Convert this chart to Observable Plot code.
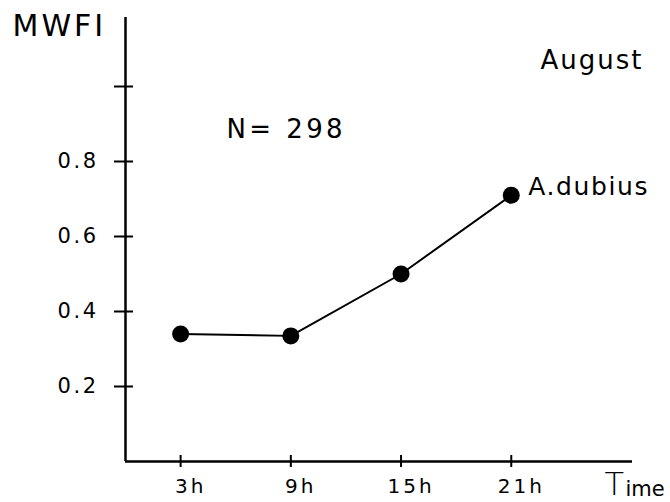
<!DOCTYPE html>
<html>
<head>
<meta charset="utf-8">
<script src="https://cdn.jsdelivr.net/npm/d3@7"></script>
<script src="https://cdn.jsdelivr.net/npm/@observablehq/plot@0.6"></script>
<style>
  html, body { margin: 0; padding: 0; background: #fff; }
  svg { display: block; }
</style>
</head>
<body>
<div id="chart"></div>
<script>
// Mean weighted feeding index of A. dubius over the day (August sample)
const hours = [3, 9, 15, 21];
const mwfi = [0.34, 0.335, 0.50, 0.71];
const hourTicks = [3, 9, 15, 21];
const yTicks = [0.2, 0.4, 0.6, 0.8, 1.0];
const yLabelTicks = [0.2, 0.4, 0.6, 0.8];
const speciesName = "A.dubius";
const sampleNote = "N= 298";
const monthName = "August";
const yTitle = "MWFI";

const rows = hours.map((h, i) => ({hour: h, value: mwfi[i]}));
const font = "'DejaVu Sans', 'Liberation Sans', Arial, sans-serif";

const chart = Plot.plot({
  width: 670,
  height: 502,
  marginLeft: 125,
  marginRight: 38,
  marginTop: 17,
  marginBottom: 41,
  style: {fontFamily: font, fontSize: "20px", color: "#000", background: "#fff"},
  x: {domain: [0, 27.6]},
  y: {domain: [0, 1.184]},
  marks: [
    // axis lines
    Plot.ruleX([0], {stroke: "#000", strokeWidth: 2.5}),
    Plot.ruleY([0], {stroke: "#000", strokeWidth: 2.5}),
    // y ticks crossing the axis
    Plot.axisY({ticks: yTicks, tickSize: 19, dx: 8, strokeWidth: 2, text: null, label: null}),
    Plot.axisY({
      ticks: yLabelTicks,
      tickSize: 0,
      tickPadding: 27,
      tickFormat: d3.format(".1f"),
      label: null
    }),
    // x ticks crossing the axis
    Plot.axisX({ticks: hourTicks, tickSize: 12, dy: -6, strokeWidth: 2, text: null, label: null}),
    Plot.axisX({
      ticks: hourTicks,
      tickSize: 0,
      tickPadding: 17,
      dx: 10,
      tickFormat: d => d + "h",
      label: null
    }),
    Plot.line(rows, {x: "hour", y: "value", stroke: "#000", strokeWidth: 2}),
    Plot.dot(rows, {x: "hour", y: "value", r: 8.5, fill: "#000", stroke: "none"}),
    Plot.text([speciesName], {
      x: hours[hours.length - 1], y: mwfi[mwfi.length - 1],
      text: d => d, textAnchor: "start", lineAnchor: "bottom",
      dx: 17, dy: 0, fontSize: 25
    }),
    Plot.text([sampleNote], {
      frameAnchor: "top-left", text: d => d, textAnchor: "start", lineAnchor: "bottom",
      dx: 101, dy: 120, fontSize: 26
    }),
    Plot.text([monthName], {
      frameAnchor: "top-left", text: d => d, textAnchor: "start", lineAnchor: "bottom",
      dx: 415, dy: 51, fontSize: 26
    }),
    Plot.text([yTitle], {
      frameAnchor: "top-left", text: d => d, textAnchor: "start", lineAnchor: "bottom",
      dx: -113, dy: 18, fontSize: 30
    }),
    Plot.text(["T"], {
      frameAnchor: "bottom-left", text: d => d, textAnchor: "start", lineAnchor: "bottom",
      dx: 479, dy: 33, fontSize: 32, fontWeight: 200
    }),
    Plot.text(["ime"], {
      frameAnchor: "bottom-left", text: d => d, textAnchor: "start", lineAnchor: "bottom",
      dx: 500, dy: 34, fontSize: 21
    })
  ]
});

// widen the letter spacing of the lettering
const svg = d3.select(chart);
svg.selectAll('g[aria-label="y-axis tick label"] text')
  .style("font-size", "21px").style("letter-spacing", "2.5px");
svg.selectAll('g[aria-label="x-axis tick label"] text')
  .style("font-size", "20px").style("letter-spacing", "3px");
const spacing = new Map([
  [sampleNote, "3.4px"], [monthName, "2px"], [yTitle, "3px"], [speciesName, "1.6px"]
]);
svg.selectAll("text").each(function() {
  const s = spacing.get(this.textContent);
  if (s) this.style.letterSpacing = s;
});

document.getElementById("chart").append(chart);
</script>
</body>
</html>
